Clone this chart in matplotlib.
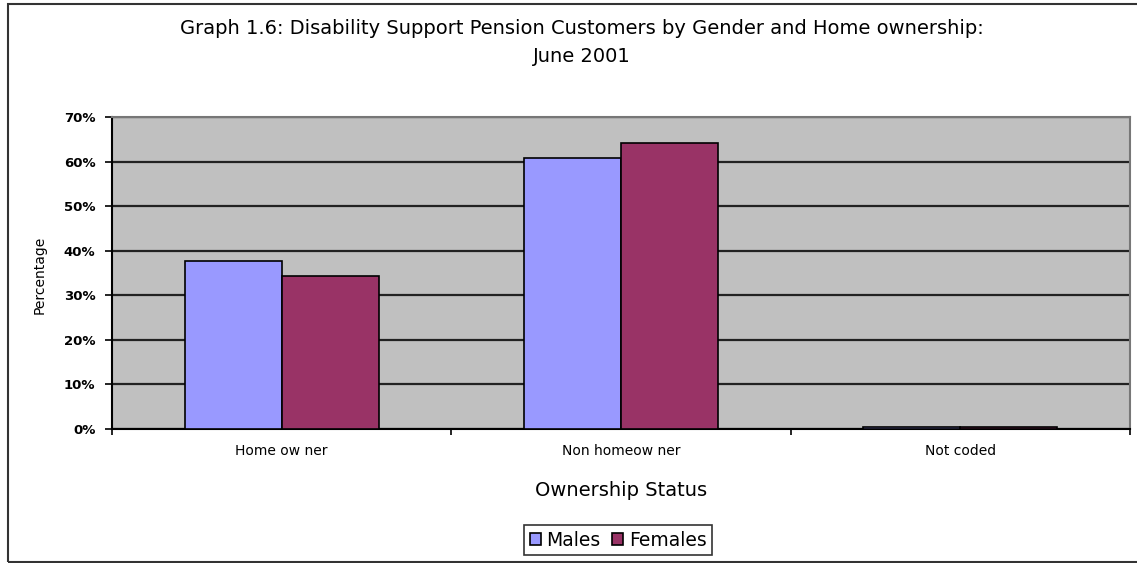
import numpy as np
import matplotlib.pyplot as plt
from matplotlib.patches import Rectangle

# data (percent)
categories = ['Home ow ner', 'Non homeow ner', 'Not coded']
males = [37.6, 60.8, 0.4]
females = [34.3, 64.2, 0.4]
yticks = [0, 10, 20, 30, 40, 50, 60, 70]

fig = plt.figure(figsize=(11.37, 5.63), dpi=100)
ax = fig.add_axes([112/1137, 1 - 429/563, (1130 - 112)/1137, (429 - 117)/563])

x = np.arange(len(categories))
w = 0.286
ax.bar(x - w/2, males, w, color='#9999FF', edgecolor='black', linewidth=1.2, label='Males', zorder=3)
ax.bar(x + w/2, females, w, color='#993366', edgecolor='black', linewidth=1.2, label='Females', zorder=3)

ax.set_facecolor('#C0C0C0')
ax.set_xlim(-0.5, 2.5)
ax.set_ylim(0, 70)
ax.set_yticks(yticks)
ax.set_yticklabels([f'{t}%' for t in yticks], fontsize=9.5, fontweight='bold')
ax.yaxis.grid(True, color='#222222', linewidth=1.6, zorder=1)
ax.set_axisbelow(True)

# category ticks at group boundaries, labels at centres
ax.set_xticks([-0.5, 0.5, 1.5, 2.5])
ax.set_xticklabels([])
ax.set_xticks(x, minor=True)
ax.set_xticklabels(categories, minor=True, fontsize=10)
ax.tick_params(axis='x', which='minor', length=0, pad=11)
ax.tick_params(axis='x', which='major', direction='out', length=4, width=1.2)
ax.tick_params(axis='y', direction='out', length=5, width=1.2, pad=7)

for s in ['top', 'right']:
    ax.spines[s].set_color('#777777')
    ax.spines[s].set_linewidth(1.5)
for s in ['left', 'bottom']:
    ax.spines[s].set_color('black')
    ax.spines[s].set_linewidth(1.5)

fig.text(621/1137, 1 - 490/563, 'Ownership Status', ha='center', va='center', fontsize=14)
fig.text(40/1137, 1 - 275/563, 'Percentage', ha='center', va='center', rotation=90, fontsize=10)

fig.text(582/1137, 1 - 28/563, 'Graph 1.6: Disability Support Pension Customers by Gender and Home ownership:',
         ha='center', va='center', fontsize=14)
fig.text(582/1137, 1 - 56/563, 'June 2001', ha='center', va='center', fontsize=14)

leg = ax.legend(loc='center', bbox_to_anchor=(618/1137, 1 - 540/563), bbox_transform=fig.transFigure,
                ncol=2, fontsize=13.5, frameon=True, fancybox=False, handlelength=0.6, handleheight=0.6,
                handletextpad=0.3, columnspacing=0.6, borderpad=0.3)
leg.get_frame().set_edgecolor('black')
leg.get_frame().set_linewidth(1.2)

# outer chart border
fig.patches.append(Rectangle((8/1137, 1/563), 1.2, 1 - 5/563, transform=fig.transFigure,
                             fill=False, edgecolor='#333333', linewidth=1.5))

fig.savefig('out.png', dpi=100)
